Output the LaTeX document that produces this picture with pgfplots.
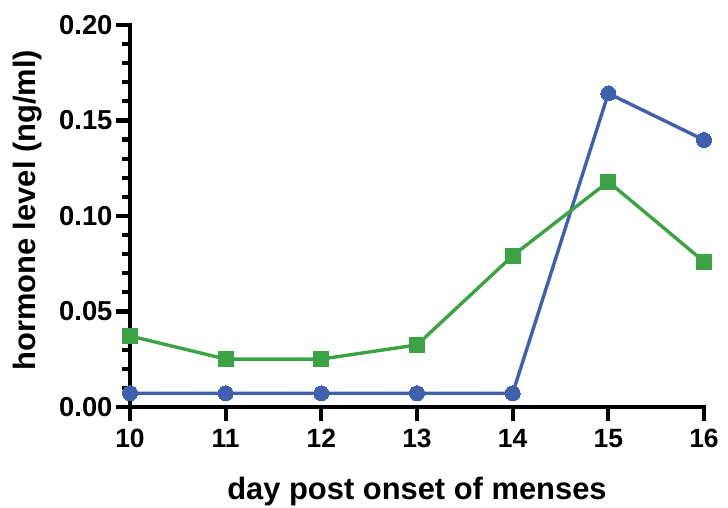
\documentclass[border=0pt]{standalone}
\usepackage{fontspec}
\setmainfont{Liberation Sans}
\usepackage{pgfplots}
\pgfplotsset{compat=1.18}
\definecolor{cblue}{RGB}{63,95,175}
\definecolor{cgreen}{RGB}{59,163,67}
\begin{document}
\begin{tikzpicture}
\useasboundingbox (-130bp,-101bp) rectangle (598bp,407bp);
\begin{axis}[
  at={(0,0)}, anchor=south west,
  scale only axis, width=574bp, height=382bp,
  xmin=10, xmax=16, ymin=0, ymax=0.2,
  axis x line*=bottom, axis y line*=left,
  axis line style={line width=4.6bp, black, line cap=rect, -},
  clip=false,
  xtick={10,11,12,13,14,15,16},
  ytick={0,0.05,0.1,0.15,0.2},
  minor y tick num=4,
  tick align=outside,
  major tick length=14bp, minor tick length=7.5bp,
  tick style={line width=4.2bp, black},
  /pgf/number format/assume math mode=true,
  yticklabel style={font=\fontsize{27.5}{30}\selectfont\bfseries, /pgf/number format/.cd, fixed, fixed zerofill, precision=2},
  xticklabel style={font=\fontsize{26.5}{30}\selectfont\bfseries, yshift=-5bp},
  scaled y ticks=false,
  xlabel={day post onset of menses},
  ylabel={hormone level (ng/ml)},
  every axis x label/.style={at={(axis description cs:0.5,-0.22)}, anchor=center, font=\fontsize{31}{33}\selectfont\bfseries},
  every axis y label/.style={at={(axis description cs:-0.178,0.515)}, rotate=90, anchor=center, font=\fontsize{31}{33}\selectfont\bfseries},
]
\addplot[cblue, line width=3.4bp, mark=*, mark size=7.5bp, mark options={fill=cblue, draw=cblue, line width=0pt}]
coordinates {(10,0.0072) (11,0.0072) (12,0.0072) (13,0.0072) (14,0.0072) (15,0.1642) (16,0.1398)};
\addplot[cgreen, line width=3.4bp, mark=square*, mark size=7.5bp, mark options={fill=cgreen, draw=cgreen, line width=0pt}]
coordinates {(10,0.0372) (11,0.0251) (12,0.0251) (13,0.0325) (14,0.0792) (15,0.1180) (16,0.0761)};
\end{axis}
\end{tikzpicture}
\end{document}
